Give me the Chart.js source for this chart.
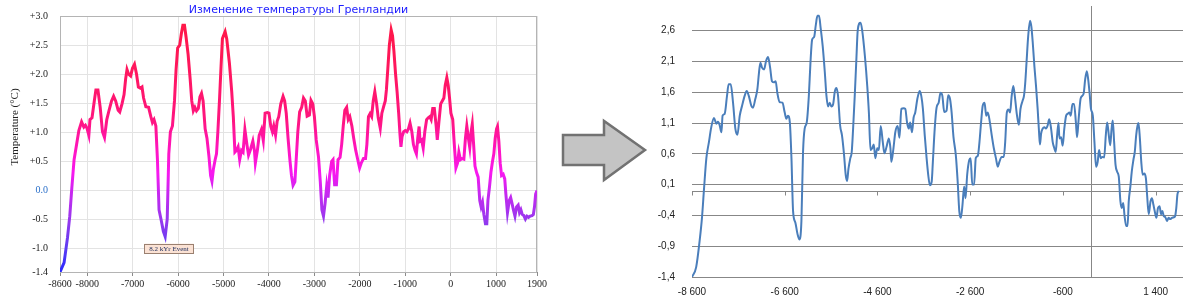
<!DOCTYPE html>
<html>
<head>
<meta charset="utf-8">
<script src="https://cdn.jsdelivr.net/npm/chart.js@4.4.1/dist/chart.umd.min.js"></script>
<style>
  html, body { margin: 0; padding: 0; background: #fff; }
  #wrap { position: relative; width: 1200px; height: 303px; overflow: hidden; }
  #left-chart { position: absolute; left: 0; top: 0; }
  #right-chart { position: absolute; left: 640px; top: 0; }
  #arrow { position: absolute; left: 555px; top: 112px; }
</style>
</head>
<body>
<div id="wrap">
  <canvas id="left-chart" width="560" height="303"></canvas>
  <svg id="arrow" width="100" height="76" viewBox="555 112 100 76">
    <polygon points="563,135 604,135 604,121 645,150 604,180 604,165 563,165"
             fill="#c4c4c4" stroke="#727272" stroke-width="2.5" stroke-linejoin="miter"/>
  </svg>
  <canvas id="right-chart" width="560" height="303"></canvas>
</div>
<script>
// Greenland temperature reconstruction (years, °C anomaly)
const years = [
  -8600, -8510, -8435, -8385, -8340, -8290, -8235, -8185, -8125, -8075, -8040, -8005,
  -7965, -7940, -7895, -7845, -7810, -7765, -7715, -7665, -7620, -7570, -7520, -7465,
  -7420, -7375, -7320, -7285, -7235, -7190, -7155, -7125, -7090, -7045, -7005, -6960,
  -6915, -6875, -6830, -6795, -6760, -6710, -6650, -6600, -6565, -6530, -6490, -6455,
  -6420, -6370, -6325, -6285, -6240, -6205, -6170, -6125, -6080, -6045, -6010, -5965,
  -5930, -5895, -5860, -5825, -5780, -5735, -5700, -5665, -5630, -5595, -5555, -5520,
  -5485, -5450, -5405, -5365, -5320, -5285, -5255, -5225, -5185, -5155, -5125, -5090,
  -5055, -5025, -4965, -4930, -4870, -4820, -4785, -4750, -4715, -4680, -4645, -4605,
  -4570, -4530, -4485, -4450, -4405, -4355, -4320, -4300, -4255, -4215, -4165, -4125,
  -4085, -4035, -4000, -3960, -3925, -3895, -3855, -3820, -3785, -3740, -3690, -3655,
  -3620, -3580, -3540, -3505, -3470, -3430, -3405, -3365, -3325, -3280, -3240, -3200,
  -3160, -3110, -3075, -3035, -3000, -2960, -2910, -2870, -2835, -2800, -2765, -2730,
  -2700, -2665, -2620, -2590, -2555, -2515, -2480, -2435, -2400, -2365, -2330, -2290,
  -2255, -2220, -2175, -2135, -2090, -2045, -2005, -1970, -1920, -1875, -1845, -1810,
  -1775, -1740, -1705, -1670, -1630, -1595, -1550, -1515, -1470, -1440, -1415, -1385,
  -1350, -1310, -1280, -1250, -1215, -1180, -1145, -1115, -1095, -1070, -1035, -1000,
  -965, -930, -895, -855, -820, -785, -755, -725, -695, -675, -640, -605,
  -570, -530, -495, -460, -430, -395, -360, -320, -295, -260, -220, -185,
  -150, -120, -85, -55, -25, 5, 45, 80, 115, 150, 180, 215,
  250, 290, 325, 355, 390, 420, 450, 475, 505, 535, 570, 605,
  640, 670, 700, 730, 765, 795, 820, 855, 885, 920, 950, 980,
  1010, 1030, 1060, 1090, 1120, 1155, 1190, 1215, 1250, 1290, 1320, 1350,
  1380, 1415, 1450, 1485, 1515, 1545, 1575, 1610, 1645, 1680, 1715, 1750,
  1790, 1820, 1845, 1870, 1900
];
const temps = [
  -1.40, -1.24, -0.81, -0.44, 0.04, 0.53, 0.79, 1.03, 1.18, 1.09, 1.12, 1.07,
  0.95, 1.22, 1.25, 1.54, 1.73, 1.73, 1.43, 1.01, 0.91, 1.22, 1.38, 1.54,
  1.62, 1.54, 1.38, 1.35, 1.49, 1.65, 1.92, 2.08, 2.00, 1.97, 2.10, 2.17,
  2.00, 1.78, 1.76, 1.78, 1.59, 1.44, 1.43, 1.27, 1.17, 1.22, 1.11, 0.53,
  -0.33, -0.52, -0.70, -0.79, -0.49, 0.63, 1.01, 1.11, 1.54, 2.08, 2.45, 2.50,
  2.69, 2.84, 2.84, 2.64, 2.34, 1.92, 1.54, 1.37, 1.43, 1.37, 1.41, 1.61,
  1.67, 1.54, 1.06, 0.90, 0.58, 0.26, 0.16, 0.36, 0.53, 0.63, 1.01, 1.54,
  2.13, 2.61, 2.73, 2.61, 2.18, 1.70, 1.27, 0.66, 0.69, 0.75, 0.53, 0.69,
  0.66, 1.05, 0.79, 0.61, 0.71, 0.85, 0.69, 0.47, 0.69, 0.95, 1.05, 0.86,
  1.33, 1.34, 1.33, 1.10, 1.01, 1.11, 0.95, 1.19, 1.27, 1.49, 1.62, 1.54,
  1.33, 0.90, 0.53, 0.26, 0.09, 0.15, 0.47, 1.01, 1.35, 1.43, 1.59, 1.54,
  1.28, 1.30, 1.55, 1.49, 1.27, 0.87, 0.58, 0.15, -0.33, -0.44, -0.22, 0.07,
  -0.12, 0.26, 0.50, 0.53, 0.10, 0.10, 0.53, 0.57, 0.79, 1.11, 1.38, 1.43,
  1.22, 1.27, 1.11, 0.90, 0.69, 0.53, 0.39, 0.47, 0.55, 0.55, 0.79, 1.27,
  1.32, 1.27, 1.54, 1.70, 1.49, 1.25, 1.07, 1.33, 1.46, 1.54, 1.73, 2.08,
  2.50, 2.76, 2.66, 2.40, 2.02, 1.70, 1.33, 0.95, 0.75, 0.93, 1.01, 1.03,
  1.01, 1.06, 1.16, 1.01, 0.79, 0.69, 0.63, 0.90, 1.10, 0.85, 0.87, 0.73,
  1.01, 1.22, 1.25, 1.27, 1.22, 1.41, 1.41, 1.11, 0.87, 1.17, 1.49, 1.54,
  1.59, 1.81, 1.94, 1.81, 1.59, 1.33, 1.22, 0.79, 0.39, 0.47, 0.66, 0.53,
  0.55, 0.54, 0.90, 1.11, 0.90, 0.74, 1.01, 1.14, 0.79, 0.42, 0.31, 0.23,
  -0.17, -0.28, -0.20, -0.41, -0.57, -0.57, -0.17, 0.07, 0.31, 0.50, 0.63, 0.90,
  1.06, 1.10, 0.85, 0.47, 0.26, 0.28, 0.20, -0.06, -0.38, -0.17, -0.12, -0.22,
  -0.33, -0.44, -0.28, -0.25, -0.38, -0.33, -0.41, -0.43, -0.49, -0.44, -0.46, -0.44,
  -0.43, -0.41, -0.28, -0.06, 0.00
];

// left chart axes
const leftXTicks = [-8600, -8000, -7000, -6000, -5000, -4000, -3000, -2000, -1000, 0, 1000, 1900];
const leftXLabels = ['-8600', '-8000', '-7000', '-6000', '-5000', '-4000', '-3000', '-2000', '-1000', '0', '1000', '1900'];
const leftYTicks = [-1.4, -1.0, -0.5, 0, 0.5, 1.0, 1.5, 2.0, 2.5, 3.0];
const leftYLabels = ['-1.4', '-1.0', '-0.5', '0.0', '+0.5', '+1.0', '+1.5', '+2.0', '+2.5', '+3.0'];
const leftTitle = 'Изменение температуры Гренландии';
const leftYTitle = 'Temperature (°C)';
const eventLabel = '8.2 kYr Event';
const eventYear = -6200;
const eventTemp = -1.0;

// right chart axes
const rightXTicks = [-8600, -6600, -4600, -2600, -600, 1400];
const rightXLabels = ['-8 600', '-6 600', '-4 600', '-2 600', '-600', '1 400'];
const rightYTicks = [-1.4, -0.9, -0.4, 0.1, 0.6, 1.1, 1.6, 2.1, 2.6];
const rightYLabels = ['-1,4', '-0,9', '-0,4', '0,1', '0,6', '1,1', '1,6', '2,1', '2,6'];

const points = years.map((yr, i) => ({ x: yr, y: temps[i] }));

function labelFor(values, labels) {
    return (value) => {
        const i = values.findIndex(v => Math.abs(v - value) < 1e-6);
        return i >= 0 ? labels[i] : '';
    };
}
function fixedTicks(values) {
    return (axis) => { axis.ticks = values.map(v => ({ value: v })); };
}

// colour of the left line goes from blue (cold) to red-pink (warm)
let leftGradient = null;
function leftLineColor(context) {
    const chart = context.chart;
    const area = chart.chartArea;
    if (!area) return '#ff1a8c';
    if (leftGradient) return leftGradient;
    const y = chart.scales.y;
    const g = chart.ctx.createLinearGradient(0, area.top, 0, area.bottom);
    const stops = [
        [3.0, '#ff1844'], [2.0, '#ff1660'], [1.2, '#ff1580'], [0.7, '#ff14c0'],
        [0.3, '#f818f0'], [0.0, '#cc26f0'], [-0.5, '#9838ee'], [-1.0, '#5c3cf2'],
        [-1.4, '#2626ff']
    ];
    stops.forEach(([v, c]) => {
        const t = (y.getPixelForValue(v) - area.top) / (area.bottom - area.top);
        g.addColorStop(Math.min(1, Math.max(0, t)), c);
    });
    leftGradient = g;
    return g;
}

const leftDecor = {
    id: 'leftDecor',
    beforeDatasetsDraw(chart) {
        const { ctx, chartArea } = chart;
        ctx.save();
        ctx.strokeStyle = '#b4b4b4';
        ctx.lineWidth = 1;
        ctx.strokeRect(chartArea.left + 0.5, chartArea.top + 0.5,
            chartArea.right - chartArea.left - 1, chartArea.bottom - chartArea.top);
        ctx.restore();
    },
    afterDraw(chart) {
        const { ctx, chartArea, scales } = chart;
        ctx.save();
        // title
        ctx.font = '11px "DejaVu Sans"';
        ctx.fillStyle = '#1c1cff';
        ctx.textAlign = 'center';
        ctx.textBaseline = 'middle';
        ctx.fillText(leftTitle, (chartArea.left + chartArea.right) / 2, 10);
        // y axis title
        ctx.translate(15, 127);
        ctx.rotate(-Math.PI / 2);
        ctx.font = '11px "Liberation Serif"';
        ctx.fillStyle = '#222';
        ctx.fillText(leftYTitle, 0, 0);
        ctx.restore();

        // 8.2 kYr event label
        const ex = scales.x.getPixelForValue(eventYear);
        const ey = scales.y.getPixelForValue(eventTemp);
        ctx.save();
        ctx.font = '7px "Liberation Serif"';
        const w = ctx.measureText(eventLabel).width + 10;
        ctx.fillStyle = '#fbe2d4';
        ctx.strokeStyle = '#9a8070';
        ctx.lineWidth = 1;
        ctx.fillRect(ex - w / 2, ey - 5, w, 10);
        ctx.strokeRect(Math.round(ex - w / 2) + 0.5, Math.round(ey - 5) + 0.5, Math.round(w), 9);
        ctx.fillStyle = '#1a2a5a';
        ctx.textAlign = 'center';
        ctx.textBaseline = 'middle';
        ctx.fillText(eventLabel, ex, ey + 0.5);
        ctx.restore();
    }
};

new Chart(document.getElementById('left-chart'), {
    type: 'line',
    data: {
        datasets: [{
            data: points,
            borderColor: leftLineColor,
            borderWidth: 3,
            pointRadius: 0,
            tension: 0,
            fill: false
        }]
    },
    options: {
        responsive: false,
        animation: false,
        devicePixelRatio: 1,
        layout: { padding: { top: 16, right: 23, left: 0, bottom: 0 } },
        plugins: { legend: { display: false }, tooltip: { enabled: false } },
        scales: {
            x: {
                type: 'linear',
                min: -8600,
                max: 1900,
                afterBuildTicks: fixedTicks(leftXTicks),
                afterFit: (s) => { s.height = 31; },
                grid: { color: '#e3e3e3', tickColor: '#8a8a8a', tickLength: 4 },
                border: { display: false },
                ticks: {
                    autoSkip: false,
                    maxRotation: 0,
                    padding: 2,
                    color: '#222',
                    font: { family: 'Liberation Serif', size: 10 },
                    callback: labelFor(leftXTicks, leftXLabels)
                }
            },
            y: {
                min: -1.4,
                max: 3.0,
                afterBuildTicks: fixedTicks(leftYTicks),
                afterFit: (s) => { s.width = 60; },
                // invisible tick marks push the labels away from the plot
                grid: { color: '#e3e3e3', tickColor: 'rgba(0,0,0,0)', tickLength: 12 },
                border: { display: false },
                ticks: {
                    padding: 0,
                    color: (ctx) => (ctx.tick && ctx.tick.value === 0 ? '#2a6fc9' : '#222'),
                    font: { family: 'Liberation Serif', size: 10 },
                    callback: labelFor(leftYTicks, leftYLabels)
                }
            }
        }
    },
    plugins: [leftDecor]
});

// Excel style axes: value axis crosses at year 0, category axis at 0 °C
const excelAxes = {
    id: 'excelAxes',
    beforeDatasetsDraw(chart) {
        const { ctx, chartArea, scales } = chart;
        const y0 = Math.round(scales.y.getPixelForValue(0)) + 0.5;
        const x0 = Math.round(scales.x.getPixelForValue(0)) + 0.5;
        ctx.save();
        ctx.strokeStyle = '#878787';
        ctx.lineWidth = 1;
        ctx.beginPath();
        ctx.moveTo(chartArea.left, y0);
        ctx.lineTo(chartArea.right, y0);
        rightXTicks.forEach(v => {
            const px = Math.round(scales.x.getPixelForValue(v)) + 0.5;
            ctx.moveTo(px, y0);
            ctx.lineTo(px, y0 + 4);
        });
        ctx.moveTo(x0, chartArea.top);
        ctx.lineTo(x0, chartArea.bottom);
        ctx.stroke();
        ctx.restore();
    }
};

new Chart(document.getElementById('right-chart'), {
    type: 'line',
    data: {
        datasets: [{
            data: points,
            borderColor: '#4a7ebb',
            borderWidth: 2,
            pointRadius: 0,
            cubicInterpolationMode: 'monotone',
            fill: false
        }]
    },
    options: {
        responsive: false,
        animation: false,
        devicePixelRatio: 1,
        layout: { padding: { top: 3, right: 17, left: 0, bottom: 0 } },
        plugins: { legend: { display: false }, tooltip: { enabled: false } },
        scales: {
            x: {
                type: 'linear',
                min: -8600,
                max: 1990,
                afterBuildTicks: fixedTicks(rightXTicks),
                afterFit: (s) => { s.height = 26; },
                grid: { display: false },
                border: { display: false },
                ticks: {
                    autoSkip: false,
                    maxRotation: 0,
                    padding: 1,
                    color: '#222',
                    font: { family: 'Liberation Sans', size: 10 },
                    callback: labelFor(rightXTicks, rightXLabels)
                }
            },
            y: {
                min: -1.4,
                max: 3.0,
                afterBuildTicks: fixedTicks(rightYTicks),
                afterFit: (s) => { s.width = 52; },
                grid: { color: '#878787', tickColor: 'rgba(0,0,0,0)', tickLength: 17 },
                border: { display: false },
                ticks: {
                    padding: 0,
                    color: '#222',
                    font: { family: 'Liberation Sans', size: 10 },
                    callback: labelFor(rightYTicks, rightYLabels)
                }
            }
        }
    },
    plugins: [excelAxes]
});
</script>
</body>
</html>
